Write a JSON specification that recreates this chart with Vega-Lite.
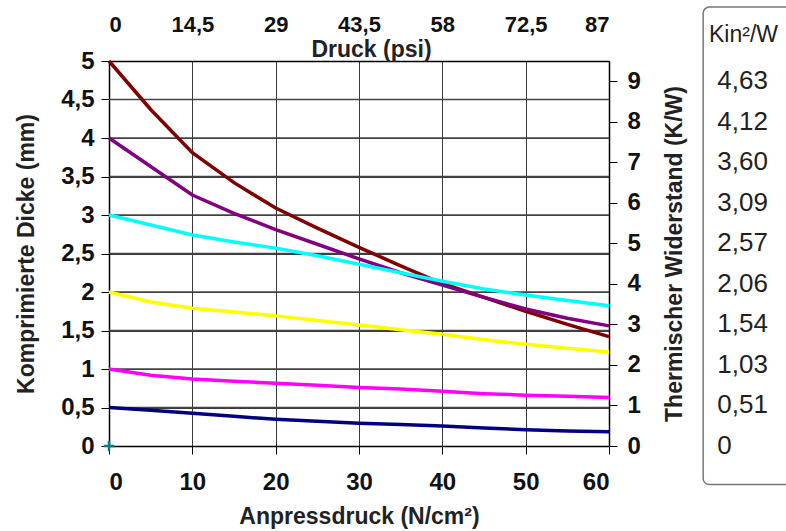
{
  "$schema": "https://vega.github.io/schema/vega-lite/v6.json",
  "width": 500,
  "height": 385,
  "autosize": {"type": "none"},
  "padding": {"left": 109, "top": 61, "right": 177, "bottom": 85},
  "background": "white",
  "config": {
    "view": {"stroke": null},
    "font": "Liberation Sans",
    "axis": {
      "labelFont": "Liberation Sans",
      "labelFontWeight": "bold",
      "labelFontSize": 24,
      "labelColor": "#111",
      "labelOverlap": false,
      "titleFont": "Liberation Sans",
      "titleFontWeight": "bold",
      "titleFontSize": 23,
      "titleColor": "#222",
      "domainColor": "#000",
      "domainWidth": 1.5,
      "tickColor": "#000",
      "tickWidth": 1,
      "gridColor": "#3a3a3a",
      "gridWidth": 1,
      "gridOpacity": 1
    }
  },
  "datasets": {
    "curves": [
      {"s": "A", "p": 0, "d": 5.0}, {"s": "A", "p": 5, "d": 4.37}, {"s": "A", "p": 10, "d": 3.81}, {"s": "A", "p": 15, "d": 3.42}, {"s": "A", "p": 20, "d": 3.09}, {"s": "A", "p": 25, "d": 2.83}, {"s": "A", "p": 30, "d": 2.58}, {"s": "A", "p": 35, "d": 2.34}, {"s": "A", "p": 40, "d": 2.11}, {"s": "A", "p": 45, "d": 1.93}, {"s": "A", "p": 50, "d": 1.75}, {"s": "A", "p": 55, "d": 1.58}, {"s": "A", "p": 60, "d": 1.42},
      {"s": "B", "p": 0, "d": 4.0}, {"s": "B", "p": 5, "d": 3.63}, {"s": "B", "p": 10, "d": 3.26}, {"s": "B", "p": 15, "d": 3.02}, {"s": "B", "p": 20, "d": 2.81}, {"s": "B", "p": 25, "d": 2.62}, {"s": "B", "p": 30, "d": 2.43}, {"s": "B", "p": 35, "d": 2.25}, {"s": "B", "p": 40, "d": 2.09}, {"s": "B", "p": 45, "d": 1.93}, {"s": "B", "p": 50, "d": 1.78}, {"s": "B", "p": 55, "d": 1.66}, {"s": "B", "p": 60, "d": 1.56},
      {"s": "C", "p": 0, "d": 3.0}, {"s": "C", "p": 5, "d": 2.87}, {"s": "C", "p": 10, "d": 2.74}, {"s": "C", "p": 15, "d": 2.65}, {"s": "C", "p": 20, "d": 2.57}, {"s": "C", "p": 25, "d": 2.47}, {"s": "C", "p": 30, "d": 2.36}, {"s": "C", "p": 35, "d": 2.25}, {"s": "C", "p": 40, "d": 2.14}, {"s": "C", "p": 45, "d": 2.04}, {"s": "C", "p": 50, "d": 1.96}, {"s": "C", "p": 55, "d": 1.89}, {"s": "C", "p": 60, "d": 1.82},
      {"s": "D", "p": 0, "d": 2.0}, {"s": "D", "p": 5, "d": 1.87}, {"s": "D", "p": 10, "d": 1.79}, {"s": "D", "p": 15, "d": 1.74}, {"s": "D", "p": 20, "d": 1.69}, {"s": "D", "p": 25, "d": 1.63}, {"s": "D", "p": 30, "d": 1.57}, {"s": "D", "p": 35, "d": 1.51}, {"s": "D", "p": 40, "d": 1.45}, {"s": "D", "p": 45, "d": 1.38}, {"s": "D", "p": 50, "d": 1.32}, {"s": "D", "p": 55, "d": 1.27}, {"s": "D", "p": 60, "d": 1.22},
      {"s": "E", "p": 0, "d": 1.0}, {"s": "E", "p": 5, "d": 0.92}, {"s": "E", "p": 10, "d": 0.87}, {"s": "E", "p": 15, "d": 0.84}, {"s": "E", "p": 20, "d": 0.815}, {"s": "E", "p": 25, "d": 0.79}, {"s": "E", "p": 30, "d": 0.76}, {"s": "E", "p": 35, "d": 0.74}, {"s": "E", "p": 40, "d": 0.71}, {"s": "E", "p": 45, "d": 0.68}, {"s": "E", "p": 50, "d": 0.66}, {"s": "E", "p": 55, "d": 0.645}, {"s": "E", "p": 60, "d": 0.63},
      {"s": "F", "p": 0, "d": 0.5}, {"s": "F", "p": 5, "d": 0.465}, {"s": "F", "p": 10, "d": 0.425}, {"s": "F", "p": 15, "d": 0.385}, {"s": "F", "p": 20, "d": 0.347}, {"s": "F", "p": 25, "d": 0.32}, {"s": "F", "p": 30, "d": 0.295}, {"s": "F", "p": 35, "d": 0.28}, {"s": "F", "p": 40, "d": 0.26}, {"s": "F", "p": 45, "d": 0.235}, {"s": "F", "p": 50, "d": 0.21}, {"s": "F", "p": 55, "d": 0.195}, {"s": "F", "p": 60, "d": 0.186}
    ],
    "origin": [{"p": 0, "d": 0}],
    "ygrid": [{"mm": 0.5}, {"mm": 1}, {"mm": 1.5}, {"mm": 2}, {"mm": 2.5}, {"mm": 3}, {"mm": 3.5}, {"mm": 4}, {"mm": 4.5}],
    "kin": [
      {"kw": 0, "label": "0"}, {"kw": 1, "label": "0,51"}, {"kw": 2, "label": "1,03"}, {"kw": 3, "label": "1,54"}, {"kw": 4, "label": "2,06"},
      {"kw": 5, "label": "2,57"}, {"kw": 6, "label": "3,09"}, {"kw": 7, "label": "3,60"}, {"kw": 8, "label": "4,12"}, {"kw": 9, "label": "4,63"}
    ]
  },
  "resolve": {"scale": {"x": "independent", "y": "independent"}, "axis": {"x": "independent", "y": "independent"}},
  "layer": [
    {
      "data": {"name": "origin"},
      "mark": {"type": "rect", "cornerRadius": 6, "fill": "white", "stroke": "#777", "strokeWidth": 1.5},
      "encoding": {
        "x": {"datum": 71.3, "type": "quantitative", "scale": {"domain": [0, 60], "nice": false}, "axis": null},
        "x2": {"datum": 84},
        "y": {"datum": -0.5, "type": "quantitative", "scale": {"domain": [0, 5], "nice": false}, "axis": null},
        "y2": {"datum": 5.7}
      }
    },
    {
      "data": {"name": "ygrid"},
      "mark": {"type": "rule", "color": "#444", "strokeWidth": 1.3},
      "encoding": {
        "x": {"datum": 0, "type": "quantitative", "scale": {"domain": [0, 60], "nice": false}, "axis": null},
        "x2": {"datum": 60},
        "y": {"field": "mm", "type": "quantitative", "scale": {"domain": [0, 5], "nice": false}, "axis": null},
        "y2": {"field": "mm"}
      }
    },
    {
      "data": {"name": "curves"},
      "mark": {"type": "line", "strokeWidth": 3.5, "clip": false},
      "encoding": {
        "x": {
          "field": "p", "type": "quantitative",
          "scale": {"domain": [0, 60], "nice": false},
          "axis": {"orient": "bottom", "values": [0, 10, 20, 30, 40, 50, 60], "grid": true, "tickSize": 8, "labelPadding": 16, "title": "Anpressdruck (N/cm²)", "titlePadding": 11}
        },
        "y": {
          "field": "d", "type": "quantitative",
          "scale": {"domain": [0, 5], "nice": false},
          "axis": {"orient": "left", "values": [0, 0.5, 1, 1.5, 2, 2.5, 3, 3.5, 4, 4.5, 5], "grid": true, "tickSize": 8, "labelPadding": 7, "labelExpr": "replace(format(datum.value, '~g'), '.', ',')", "title": "Komprimierte Dicke (mm)", "titlePadding": 22}
        },
        "color": {
          "field": "s", "type": "nominal",
          "scale": {"domain": ["A", "B", "C", "D", "E", "F"], "range": ["#800000", "#800080", "#00ffff", "#ffff00", "#ff00ff", "#000080"]},
          "legend": null
        }
      }
    },
    {
      "data": {"name": "origin"},
      "mark": {"type": "point", "shape": "M-1,0H1M0,-1V1", "filled": false, "size": 110, "strokeWidth": 2.5, "color": "#008080", "opacity": 1},
      "encoding": {
        "x": {"field": "p", "type": "quantitative", "scale": {"domain": [0, 60], "nice": false}, "axis": null},
        "y": {"field": "d", "type": "quantitative", "scale": {"domain": [0, 5], "nice": false}, "axis": null}
      }
    },
    {
      "layer": [
        {
          "data": {"name": "kin"},
          "mark": {"type": "text", "align": "left", "baseline": "middle", "font": "Liberation Sans", "fontSize": 26, "color": "#231f20"},
          "encoding": {
            "x": {
              "datum": 73.0, "type": "quantitative",
              "scale": {"domain": [0, 60], "nice": false},
              "axis": {"orient": "top", "values": [0, 10, 20, 30, 40, 50, 60], "grid": false, "ticks": false, "tickSize": 0, "labelPadding": 25, "labelFontSize": 22, "labelExpr": "replace(format(datum.value * 1.45, '.1~f'), '.', ',')", "title": "Druck (psi)", "titleBaseline": "bottom", "titleY": 0, "titleX": 262}
            },
            "y": {
              "field": "kw", "type": "quantitative",
              "scale": {"domain": [0, 9.5], "nice": false},
              "axis": {"orient": "right", "values": [0, 1, 2, 3, 4, 5, 6, 7, 8, 9], "grid": false, "tickSize": 8, "labelPadding": 10, "title": "Thermischer Widerstand (K/W)", "titleAngle": 270, "titleBaseline": "top", "titlePadding": 23}
            },
            "text": {"field": "label", "type": "nominal"}
          }
        },
        {
          "data": {"name": "origin"},
          "mark": {"type": "text", "align": "left", "baseline": "middle", "font": "Liberation Sans", "fontSize": 23, "color": "#231f20", "text": "Kin²/W"},
          "encoding": {
            "x": {"datum": 72.0, "type": "quantitative"},
            "y": {"datum": 10.15, "type": "quantitative"}
          }
        }
      ]
    }
  ]
}
